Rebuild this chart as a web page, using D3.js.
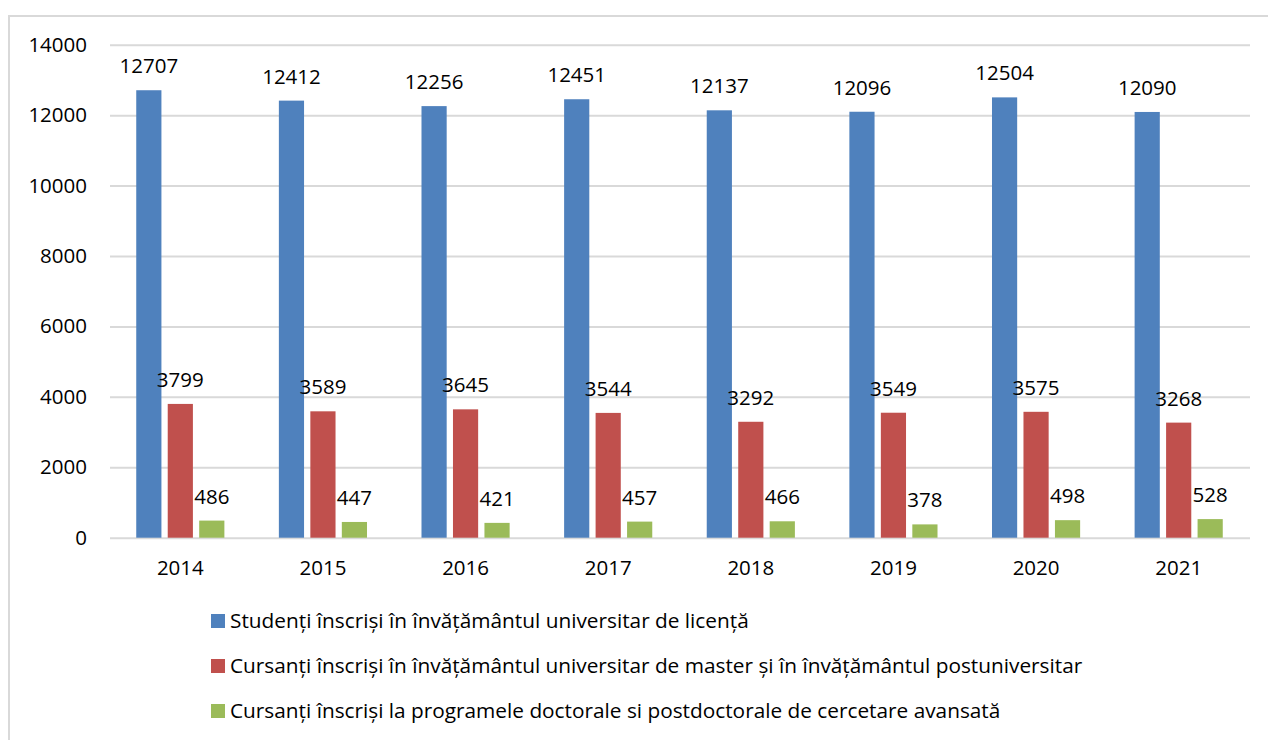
<!DOCTYPE html>
<html><head><meta charset="utf-8">
<script src="https://cdn.jsdelivr.net/npm/d3@7"></script>
<style>body{margin:0;background:#fff}svg{display:block;font-family:"Open Sans",sans-serif}</style>
</head><body><svg id="c" width="1268" height="740"></svg>
<script>
const categories = ["2014","2015","2016","2017","2018","2019","2020","2021"];
const seriesNames = [
  "Studenți înscriși în învățământul universitar de licență",
  "Cursanți înscriși în învățământul universitar de master și în învățământul postuniversitar",
  "Cursanți înscriși la programele doctorale si postdoctorale de cercetare avansată"
];
const licenta = [12707,12412,12256,12451,12137,12096,12504,12090];
const master = [3799,3589,3645,3544,3292,3549,3575,3268];
const doctorat = [486,447,421,457,466,378,498,528];
const yTicks = [0,2000,4000,6000,8000,10000,12000,14000];
const colors = ["#4F81BD","#C0504D","#9BBB59"];

const series = [licenta, master, doctorat];
const svg = d3.select("#c");

svg.append("rect").attr("x",9).attr("y",16).attr("width",1280).attr("height",760)
  .attr("fill","none").attr("stroke","#D9D9D9").attr("stroke-width",2);

const y = d3.scaleLinear().domain([0,14000]).range([537.7,44.7]);
const x0 = d3.scaleBand().domain(categories).range([109,1250]).paddingInner(0.382).paddingOuter(0.191);
const x1 = d3.scaleBand().domain(d3.range(3)).range([0,x0.bandwidth()]).paddingInner(0.2);

const yAxis = d3.axisLeft(y).tickValues(yTicks).tickSize(-(1250-110)).tickPadding(23).tickFormat(d3.format("d"));
const gy = svg.append("g").attr("transform","translate(110,0)").call(yAxis);
gy.select(".domain").remove();
gy.selectAll(".tick line").attr("stroke","#D9D9D9").attr("stroke-width",2);
gy.selectAll(".tick text").attr("font-size",20.5).attr("fill","#000").attr("font-family","Open Sans");

const xAxis = d3.axisBottom(x0).tickSize(0).tickPadding(23);
const gx = svg.append("g").attr("transform","translate(0,537.7)").call(xAxis);
gx.select(".domain").remove();
gx.selectAll(".tick text").attr("font-size",20.5).attr("fill","#000").attr("font-family","Open Sans");

const groups = svg.append("g").selectAll("g").data(categories).join("g")
  .attr("transform",d=>`translate(${x0(d)},0)`);
series.forEach((vals,si)=>{
  groups.append("rect")
    .attr("x",x1(si)).attr("width",x1.bandwidth())
    .attr("y",(d,i)=>y(vals[i])).attr("height",(d,i)=>y(0)-y(vals[i]))
    .attr("fill",colors[si]);
  groups.append("text")
    .attr("x",x1(si)+x1.bandwidth()/2).attr("y",(d,i)=>y(vals[i])-17)
    .attr("text-anchor","middle").attr("font-size",20.5).attr("fill","#000")
    .text((d,i)=>vals[i]);
});

const lg = svg.append("g").selectAll("g").data(seriesNames).join("g")
  .attr("transform",(d,i)=>`translate(211,${614+i*45})`);
lg.append("rect").attr("width",14).attr("height",14).attr("fill",(d,i)=>colors[i]);
lg.append("text").attr("x",19).attr("y",7).attr("dy","0.35em").attr("font-size",20.8).attr("fill","#000").text(d=>d);
</script></body></html>
